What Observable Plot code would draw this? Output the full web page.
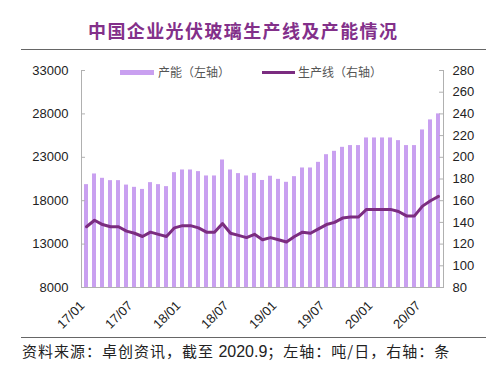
<!DOCTYPE html>
<html>
<head>
<meta charset="utf-8">
<script src="https://cdn.jsdelivr.net/npm/d3@7"></script>
<script src="https://cdn.jsdelivr.net/npm/@observablehq/plot@0.6"></script>
<style>
  body { margin:0; width:504px; height:380px; position:relative; background:#fff; overflow:hidden;
         font-family:"Liberation Sans","Noto Sans CJK SC",sans-serif; }
  .abs { position:absolute; }
  #title { left:88px; top:18px; white-space:nowrap; font-family:"Noto Sans CJK SC",sans-serif;
           font-weight:bold; font-size:18px; letter-spacing:1.4px; color:#83308A; line-height:24px; }
  .rule { left:21px; width:465px; height:1.5px; background:#666; }
  .leg { font-family:"Noto Sans CJK SC",sans-serif; font-size:12px; color:#555; line-height:16px; }
  #caption { left:22px; top:341px; font-family:"Noto Sans CJK SC",sans-serif; font-size:15px; letter-spacing:1px;
             color:#222; line-height:20px; white-space:nowrap; }
  #caption .num { font-family:"Liberation Sans",sans-serif; font-size:16px; letter-spacing:0; }
</style>
</head>
<body>
<div id="title" class="abs">中国企业光伏玻璃生产线及产能情况</div>
<div class="abs rule" style="top:48.5px"></div>
<div id="chart" class="abs" style="left:0;top:50px"></div>
<div class="abs" style="left:120px;top:70px;width:34px;height:5px;background:#C9A0F0"></div>
<div class="abs leg" style="left:158px;top:64px">产能（左轴）</div>
<div class="abs" style="left:262px;top:71px;width:33px;height:3px;background:#7B2C80"></div>
<div class="abs leg" style="left:298px;top:64px">生产线（右轴）</div>
<div class="abs rule" style="top:336.5px"></div>
<div id="caption" class="abs">资料来源：卓创资讯，截至 <span class="num">2020.9</span>；左轴：吨/日，右轴：条</div>
<script>
// ---- data ----
const months = [
  "17/01","17/02","17/03","17/04","17/05","17/06","17/07","17/08","17/09","17/10","17/11","17/12",
  "18/01","18/02","18/03","18/04","18/05","18/06","18/07","18/08","18/09","18/10","18/11","18/12",
  "19/01","19/02","19/03","19/04","19/05","19/06","19/07","19/08","19/09","19/10","19/11","19/12",
  "20/01","20/02","20/03","20/04","20/05","20/06","20/07","20/08","20/09"
];
const capacity = [
  19850,21080,20580,20310,20310,19800,19540,19300,20080,19850,19620,21230,
  21540,21540,21350,20850,20850,22690,21540,21120,20850,21150,20330,20820,
  20460,20120,20770,21770,21770,22420,23300,23690,24150,24350,24350,25230,
  25230,25230,25230,24920,24350,24350,26150,27310,28000
];
const lines = [
  136,142,138,136,136,132,130,127,131,129,127,135,
  137,137,135,131,131,139,130,128,126,129,124,126,
  124,122,127,131,130,134,138,140,144,145,145,152,
  152,152,152,150,146,146,155,160,164
];
const xTickLabels = ["17/01","17/07","18/01","18/07","19/01","19/07","20/01","20/07"];
const leftTicks = [8000,13000,18000,23000,28000,33000];
const rightTicks = [80,100,120,140,160,180,200,220,240,260,280];

// right axis (80–280) mapped onto left axis (8000–33000)
const L0 = 8000, L1 = 33000, R0 = 80, R1 = 280;
const toLeft = v => L0 + (v - R0) * (L1 - L0) / (R1 - R0);
const fromLeft = v => String(Math.round(R0 + (v - L0) * (R1 - R0) / (L1 - L0)));

const table = months.map((m, i) => ({month: m, cap: capacity[i], line: lines[i]}));

const W = 504, H = 287, mL = 81, mR = 61, mT = 20, mB = 50;
const plotW = W - mL - mR;
const axisColor = "#b0b0b0";

const chart = Plot.plot({
  width: W, height: H,
  marginLeft: mL, marginRight: mR, marginTop: mT, marginBottom: mB,
  style: {fontFamily: "'Liberation Sans', Arial, sans-serif", fontSize: "13px", color: "#222", background: "transparent"},
  x: {type: "band", domain: months, paddingInner: 0.52, paddingOuter: 0.1, axis: null, label: null},
  y: {domain: [L0, L1], axis: null, label: null},
  marks: [
    Plot.barY(table, {x: "month", y1: L0, y2: "cap", fill: "#C9A0F0"}),
    Plot.line(table, {x: "month", y: d => toLeft(d.line), stroke: "#7B2C80", strokeWidth: 3, strokeLinejoin: "round"}),
    Plot.frame({anchor: "left", stroke: axisColor}),
    Plot.frame({anchor: "right", stroke: axisColor}),
    Plot.frame({anchor: "bottom", stroke: axisColor}),
    Plot.tickY(leftTicks, {y: d => d, insetRight: plotW - 4, stroke: axisColor}),
    Plot.tickY(rightTicks.map(toLeft), {y: d => d, insetLeft: plotW - 4, stroke: axisColor}),
    Plot.axisY(leftTicks, {anchor: "left", label: null, tickSize: 0, tickPadding: 13, fontSize: 13, tickFormat: d => String(d)}),
    Plot.axisY(rightTicks.map(toLeft), {anchor: "right", label: null, tickSize: 0, tickPadding: 9, fontSize: 13, tickFormat: fromLeft}),
    Plot.axisX(xTickLabels, {anchor: "bottom", label: null, tickSize: 0, tickPadding: 16, tickRotate: -45, fontSize: 13, dx: -4})
  ]
});
document.getElementById("chart").appendChild(chart);
</script>
</body>
</html>
